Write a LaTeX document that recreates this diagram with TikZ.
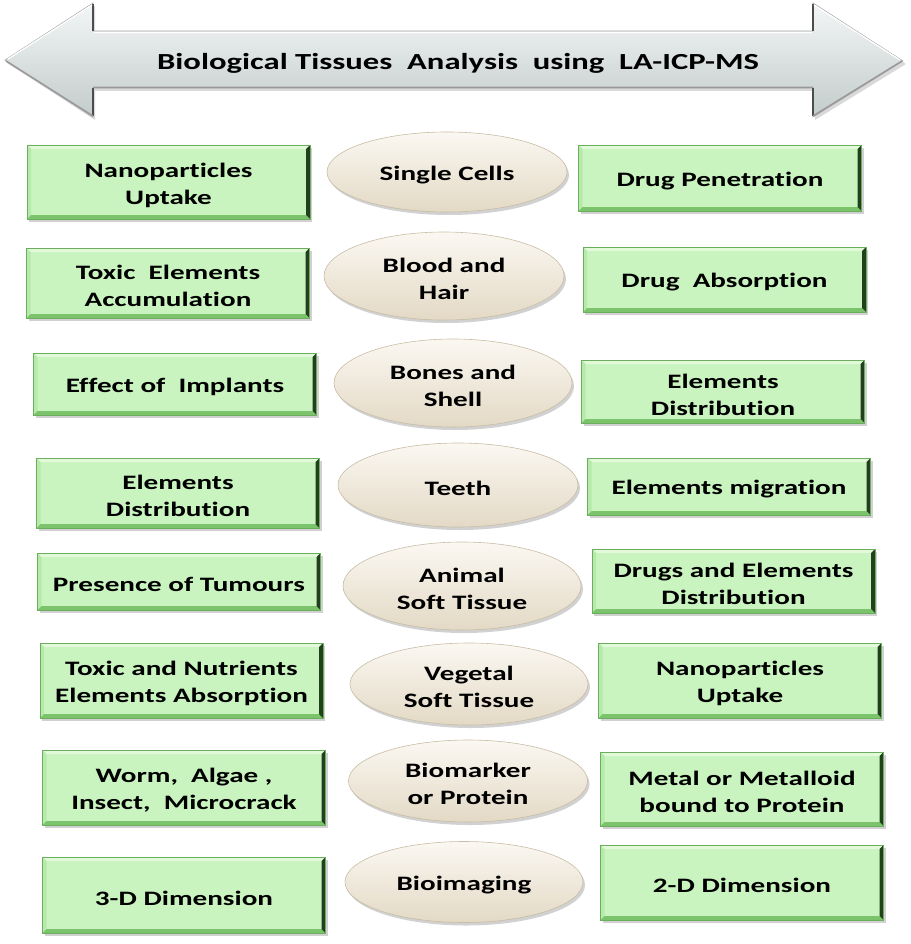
\documentclass[tikz,border=0pt]{standalone}
\usepackage{fontspec}
\newfontfamily\lbl{Carlito}[FakeStretch=1.42, Ligatures={NoCommon,NoContextual}, RawFeature={-liga;-clig;-calt;-dlig}]
\usetikzlibrary{shapes.geometric,shadows}
\definecolor{gfill}{HTML}{C9F4BF}
\definecolor{gtop}{HTML}{E2FADA}
\definecolor{gleft}{HTML}{B6EAAA}
\definecolor{gbot}{HTML}{7CC46C}
\definecolor{gright}{HTML}{22401E}
\definecolor{gline}{HTML}{6AAE5E}
\definecolor{creamA}{HTML}{FBF8F2}
\definecolor{creamB}{HTML}{F5F0E5}
\definecolor{creamC}{HTML}{E3D9C5}
\definecolor{creamline}{HTML}{C8BDA5}
\definecolor{arrA}{HTML}{F3F6F6}
\definecolor{arrB}{HTML}{E3E9E9}
\definecolor{arrC}{HTML}{C3CBCB}
\def\pp{path picture bounding box}
\tikzset{
  txt/.style={align=center, inner sep=0pt, yshift=-3pt, text=black,
    font=\lbl\bfseries\fontsize{20.5}{27}\selectfont},
  gbox/.style={rectangle, fill=gfill, draw=gline, line width=0.6pt,
    inner sep=0pt, minimum width=283pt,
    drop shadow={shadow xshift=2pt, shadow yshift=-3pt, opacity=0.3, fill=black!60},
    path picture={
      \fill[gtop] (\pp.north west) -- (\pp.north east) -- ([shift={(-4pt,-4pt)}]\pp.north east) -- ([shift={(4pt,-4pt)}]\pp.north west) -- cycle;
      \fill[gleft] (\pp.north west) -- (\pp.south west) -- ([shift={(4pt,4pt)}]\pp.south west) -- ([shift={(4pt,-4pt)}]\pp.north west) -- cycle;
      \fill[gbot] (\pp.south west) -- (\pp.south east) -- ([shift={(-4pt,4pt)}]\pp.south east) -- ([shift={(4pt,4pt)}]\pp.south west) -- cycle;
      \fill[gright] (\pp.north east) -- (\pp.south east) -- ([shift={(-4pt,4pt)}]\pp.south east) -- ([shift={(-4pt,-4pt)}]\pp.north east) -- cycle;
    }},
  ell/.style={ellipse, inner sep=0pt, draw=creamline, line width=0.6pt,
    top color=creamA, middle color=creamB, bottom color=creamC,
    drop shadow={shadow xshift=2pt, shadow yshift=-3pt, opacity=0.3, fill=black!60}},
}
\begin{document}
\begin{tikzpicture}[x=1pt,y=-1pt]
\useasboundingbox (0,0) rectangle (910,944);
% title arrow
\fill[black!50, opacity=0.3] (7,63) -- (95,6) -- (95,34) -- (815,34) -- (815,6) -- (906,64) -- (815,120) -- (815,91) -- (95,91) -- (95,120) -- cycle;
\shade[top color=arrA, middle color=arrB, bottom color=arrC, draw=black!35, line width=0.6pt]
  (5,60) -- (93,3) -- (93,31) -- (813,31) -- (813,3) -- (903,61) -- (813,117) -- (813,88) -- (93,88) -- (93,117) -- cycle;
\draw[black!70, line width=2pt] (93,4) -- (93,31) (93,88) -- (93,116) (813,4) -- (813,31) (813,88) -- (813,116);
\draw[black!40, line width=1.5pt] (6,61) -- (93,116) (813,116) -- (902,61) (93,87.5) -- (813,87.5);
\draw[white, line width=1.2pt] (8,59) -- (92,5) (94,32.5) -- (812,32.5) (814,5) -- (900,60);
\node[font=\lbl\bfseries\fontsize{23}{28}\selectfont] (title) at (458,63) {Biological Tissues~ Analysis~ using~ LA-ICP-MS};
% left boxes
\node[gbox, minimum height=74pt, label={[txt]center:{Nanoparticles\\Uptake}}] (L1) at (168.5,182) {};
\node[gbox, minimum height=70pt, label={[txt]center:{Toxic~ Elements\\Accumulation}}] (L2) at (168,283) {};
\node[gbox, minimum height=62pt, label={[txt]center:{Effect of~ Implants}}] (L3) at (175,384) {};
\node[gbox, minimum height=70pt, label={[txt]center:{Elements\\Distribution}}] (L4) at (178,493) {};
\node[gbox, minimum height=57pt, label={[txt]center:{Presence of Tumours}}] (L5) at (179,581.5) {};
\node[gbox, minimum height=75pt, label={[txt]center:{Toxic and Nutrients\\Elements Absorption}}] (L6) at (181.5,680.5) {};
\node[gbox, minimum height=75pt, label={[txt]center:{Worm,~ Algae ,\\Insect,~ Microcrack}}] (L7) at (184,787.5) {};
\node[gbox, minimum height=76pt, label={[txt]center:{3-D Dimension}}] (L8) at (184,895) {};
% ellipses
\node[ell, minimum width=240pt, minimum height=80pt, label={[txt]center:{Single Cells}}] (E1) at (447,172) {};
\node[ell, minimum width=240pt, minimum height=88pt, label={[txt]center:{Blood and\\Hair}}] (E2) at (444,276) {};
\node[ell, minimum width=238pt, minimum height=88pt, label={[txt]center:{Bones and\\Shell}}] (E3) at (453,383) {};
\node[ell, minimum width=240pt, minimum height=84pt, label={[txt]center:{Teeth}}] (E4) at (458,485) {};
\node[ell, minimum width=238pt, minimum height=88pt, label={[txt]center:{Animal\\Soft Tissue}}] (E5) at (462,586) {};
\node[ell, minimum width=238pt, minimum height=82pt, label={[txt]center:{Vegetal\\Soft Tissue}}] (E6) at (469,684) {};
\node[ell, minimum width=239pt, minimum height=82pt, label={[txt]center:{Biomarker\\or Protein}}] (E7) at (468,781) {};
\node[ell, minimum width=238pt, minimum height=81pt, label={[txt]center:{Bioimaging}}] (E8) at (464,882) {};
% right boxes
\node[gbox, minimum height=66pt, label={[txt]center:{Drug Penetration}}] (R1) at (720,178) {};
\node[gbox, minimum height=65pt, label={[txt]center:{Drug~ Absorption}}] (R2) at (724.5,279.5) {};
\node[gbox, minimum height=63pt, label={[txt]center:{Elements\\Distribution}}] (R3) at (723,391.5) {};
\node[gbox, minimum height=57pt, label={[txt]center:{Elements migration}}] (R4) at (729,486.5) {};
\node[gbox, minimum height=64pt, label={[txt]center:{Drugs and Elements\\Distribution}}] (R5) at (733.5,581) {};
\node[gbox, minimum height=75pt, label={[txt]center:{Nanoparticles\\Uptake}}] (R6) at (740,680.5) {};
\node[gbox, minimum height=74pt, label={[txt]center:{Metal or Metalloid\\bound to Protein}}] (R7) at (742,789) {};
\node[gbox, minimum height=75pt, label={[txt]center:{2-D Dimension}}] (R8) at (742,882.5) {};
\end{tikzpicture}
\end{document}
